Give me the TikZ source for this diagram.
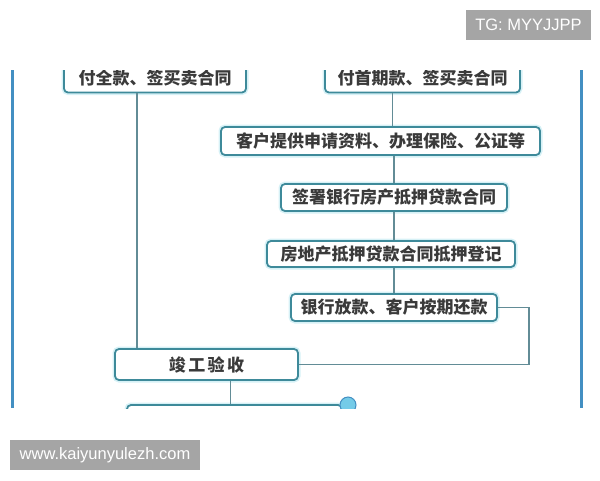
\documentclass[tikz,border=0pt]{standalone}
\usepackage{fontspec}
\setmainfont{Liberation Sans}
\newfontfamily\cjk{Noto Sans CJK SC}
\usetikzlibrary{calc}
\usetikzlibrary{positioning}
\definecolor{boxline}{HTML}{3E8A9A}
\definecolor{boxglow}{HTML}{D6F1F6}
\definecolor{wireline}{HTML}{628C96}
\definecolor{panelline}{HTML}{438FC2}
\definecolor{badgefill}{HTML}{74CBE8}
\definecolor{marktag}{HTML}{A5A5A5}
\definecolor{inktext}{HTML}{3A3A3A}
\tikzset{block/.style={draw=boxline, line width=1.8pt, rounded corners=4pt, fill=white, text=inktext,
  font=\cjk\bfseries\fontsize{17}{20}\selectfont, inner sep=0pt,
  preaction={draw=boxglow, line width=5pt}}}
\tikzset{connect/.style={draw=wireline, line width=1.3pt}}
\tikzset{tag/.style={fill=marktag, text=white, font=\fontsize{16.5}{19}\selectfont, inner sep=0pt}}
\begin{document}
\begin{tikzpicture}[x=1pt,y=-1pt]

\useasboundingbox (0,0) rectangle (600,480);

\begin{scope}
\clip (12,70) rectangle (583,408);
%payment
\node[block,minimum height=28pt,minimum width=182pt] (fullpay) at (155,78.5) {付全款、签买卖合同};
\node[block,minimum height=28pt,minimum width=195pt] (downpay) at (422.5,78.5) {付首期款、签买卖合同};
%loan steps
\node[block,minimum height=28pt,minimum width=319pt] (docs) at (380.5,141) {客户提供申请资料、办理保险、公证等};
\node[block,minimum height=27pt,minimum width=226pt] (contract) at (394,197.5) {签署银行房产抵押贷款合同};
\node[block,minimum height=26pt,minimum width=248pt] (register) at (391,254) {房地产抵押贷款合同抵押登记};
\node[block,minimum height=27pt,minimum width=206pt] (loan) at (394,307.5) {银行放款、客户按期还款};
%acceptance
\node[block,minimum height=31pt,minimum width=183pt] (accept) at (206.5,364.5) {竣\hspace{2.5pt}工\hspace{2.5pt}验\hspace{2.5pt}收};
\node[block,minimum height=28pt,minimum width=215pt] (next) at (234.5,419) { };
\node[circle,draw=panelline,fill=badgefill,line width=1pt,minimum size=16pt,inner sep=0pt] (badge) at (348,405) { };

%links
\path[connect] ([xshift=-18pt]fullpay.south) -- ([xshift=-18pt]fullpay.south |- accept.north);
\path[connect] ([xshift=-30pt]downpay.south) -- ([xshift=-30pt]downpay.south |- docs.north);
\path[connect] (docs.south -| contract.north) -- (contract.north);
\path[connect] (contract.south) -- (contract.south |- register.north);
\path[connect] (register.south -| loan.north) -- (loan.north);
\path[connect] (loan.east) -- ([xshift=31pt]loan.east) |- (accept.east);
\path[connect] ([xshift=24pt]accept.south) -- ([xshift=24pt]accept.south |- next.north);
\end{scope}

%panel edges
\draw[panelline, line width=3pt] (12.5,70) -- (12.5,408);
\draw[panelline, line width=3pt] (581.5,70) -- (581.5,408);

%watermarks
\node[tag,minimum width=125pt,minimum height=30pt] (tgmark) at (528.5,25) {TG: MYYJJPP};
\node[tag,minimum width=190pt,minimum height=30pt] (sitemark) at (105,455) {www.kaiyunyulezh.com};

\end{tikzpicture}
\end{document}
